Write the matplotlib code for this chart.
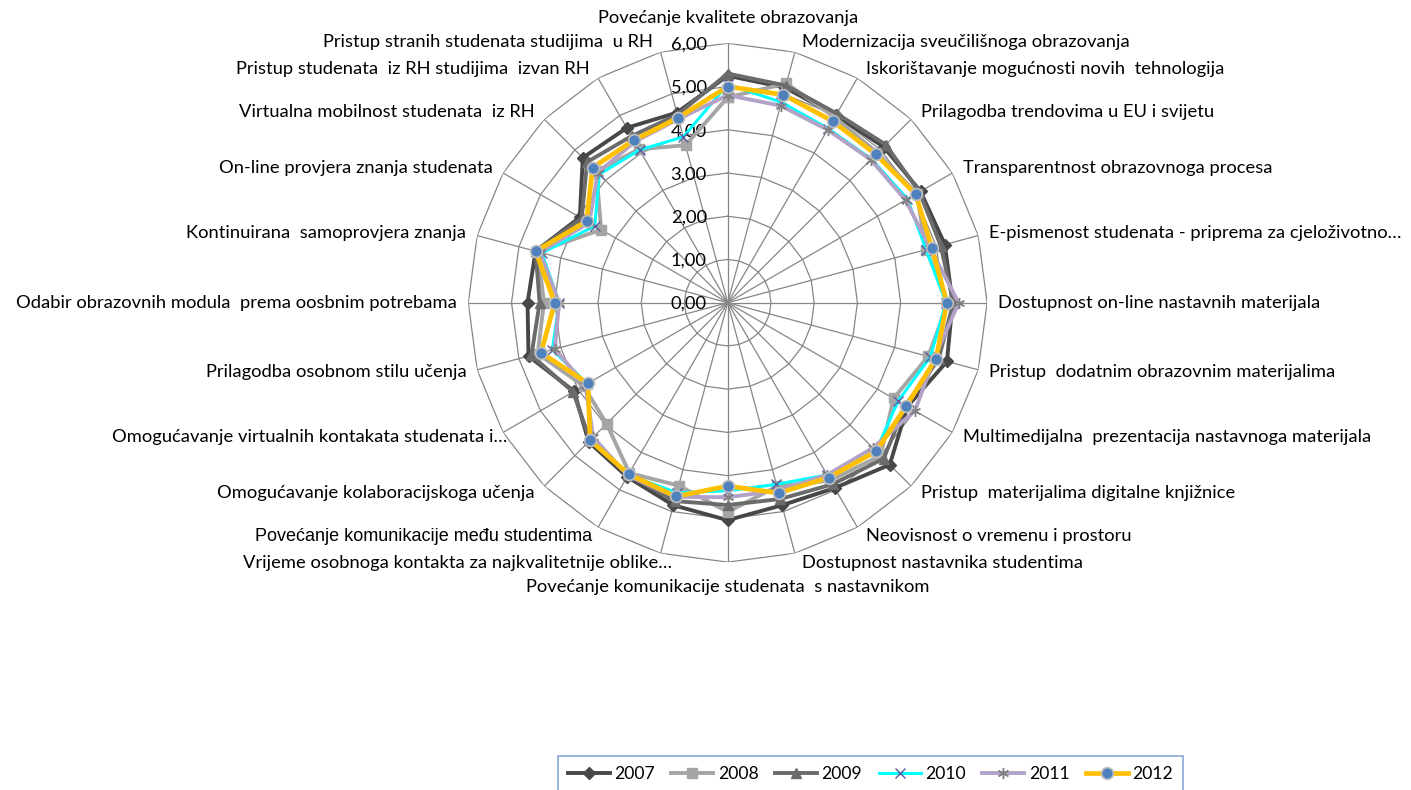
import numpy as np
import matplotlib
matplotlib.use("Agg")
import matplotlib.pyplot as plt

# --- Data ---
categories = [
    "Povećanje kvalitete obrazovanja",
    "Modernizacija sveučilišnoga obrazovanja",
    "Iskorištavanje mogućnosti novih  tehnologija",
    "Prilagodba trendovima u EU i svijetu",
    "Transparentnost obrazovnoga procesa",
    "E-pismenost studenata - priprema za cjeloživotno…",
    "Dostupnost on-line nastavnih materijala",
    "Pristup  dodatnim obrazovnim materijalima",
    "Multimedijalna  prezentacija nastavnoga materijala",
    "Pristup  materijalima digitalne knjižnice",
    "Neovisnost o vremenu i prostoru",
    "Dostupnost nastavnika studentima",
    "Povećanje komunikacije studenata  s nastavnikom",
    "Vrijeme osobnoga kontakta za najkvalitetnije oblike…",
    "Povećanje komunikacije među studentima",
    "Omogućavanje kolaboracijskoga učenja",
    "Omogućavanje virtualnih kontakata studenata i…",
    "Prilagodba osobnom stilu učenja",
    "Odabir obrazovnih modula  prema oosbnim potrebama",
    "Kontinuirana  samoprovjera znanja",
    "On-line provjera znanja studenata",
    "Virtualna mobilnost studenata  iz RH",
    "Pristup studenata  iz RH studijima  izvan RH",
    "Pristup stranih studenata studijima  u RH",
]

v2007 = [5.25, 5.15, 5.00, 5.10, 5.15, 5.20, 5.20, 5.25, 4.80, 5.30, 4.95, 4.85,
         5.03, 4.85, 4.65, 4.55, 4.10, 4.77, 4.63, 4.60, 3.95, 4.74, 4.67, 4.55]
v2008 = [4.75, 5.25, 4.95, 4.90, 5.05, 4.75, 5.10, 4.80, 4.43, 5.00, 4.75, 4.40,
         4.84, 4.38, 4.55, 3.96, 3.85, 4.55, 4.25, 4.55, 3.38, 4.30, 4.10, 3.77]
v2009 = [5.30, 5.20, 5.05, 5.17, 5.12, 5.10, 5.22, 5.05, 4.75, 5.10, 4.85, 4.70,
         4.68, 4.75, 4.60, 4.50, 4.13, 4.70, 4.35, 4.60, 3.90, 4.60, 4.45, 4.50]
v2010 = [5.05, 4.80, 4.65, 4.70, 4.80, 4.75, 5.05, 4.85, 4.55, 4.85, 4.60, 4.35,
         4.35, 4.55, 4.60, 4.45, 3.75, 4.20, 3.90, 4.45, 3.55, 4.20, 4.08, 3.97]
v2011 = [4.80, 4.72, 4.62, 4.68, 4.75, 4.85, 5.34, 4.95, 5.00, 4.75, 4.60, 4.50,
         4.50, 4.65, 4.62, 4.40, 3.80, 4.14, 3.90, 4.50, 3.70, 4.25, 4.30, 4.40]
v2012 = [5.00, 4.98, 4.85, 4.85, 5.02, 4.89, 5.07, 4.99, 4.77, 4.86, 4.67, 4.56,
         4.24, 4.64, 4.58, 4.50, 3.73, 4.47, 4.00, 4.60, 3.77, 4.42, 4.34, 4.43]

years = ["2007", "2008", "2009", "2010", "2011", "2012"]
tick_values = [0, 1, 2, 3, 4, 5, 6]

# --- Styles ---
styles = {
    "2007": dict(color="#474747", lw=2.8, marker="D", ms=6.5, mfc="#474747", mec="#474747", mew=1),
    "2008": dict(color="#A5A5A5", lw=2.8, marker="s", ms=7, mfc="#A5A5A5", mec="#A5A5A5", mew=1),
    "2009": dict(color="#6B6B6B", lw=2.8, marker="^", ms=7.5, mfc="#6B6B6B", mec="#6B6B6B", mew=1),
    "2010": dict(color="#00FFFF", lw=2.2, marker="x", ms=7.5, mfc="none", mec="#5A5AA0", mew=1.0),
    "2011": dict(color="#B3A2C7", lw=2.8, marker=(6, 2, 0), ms=8, mfc="none", mec="#808080", mew=1.0),
    "2012": dict(color="#FFC000", lw=3.4, marker="o", ms=8.5, mfc="#4F81BD", mec="#BFBFBF", mew=1.2),
}

FS = 13.2
plt.rcParams["font.family"] = ["Lato", "DejaVu Sans"]

W, H = 1411, 790
fig = plt.figure(figsize=(W / 100, H / 100), dpi=100)

cx, cy, R = 727.7, 302.7, 259.4
ax = fig.add_axes([(cx - R) / W, 1 - (cy + R) / H, 2 * R / W, 2 * R / H], projection="polar")
ax.set_theta_zero_location("N")
ax.set_theta_direction(-1)
ax.set_ylim(0, 6)
ax.grid(False)
ax.set_xticks([])
ax.set_yticks([])
ax.spines["polar"].set_visible(False)
ax.patch.set_alpha(0)

n = len(categories)
theta = np.arange(n) * 2 * np.pi / n
theta_c = np.append(theta, theta[0])

grid_col = "#868686"
for r in tick_values[1:]:
    ax.plot(theta_c, [r] * (n + 1), color=grid_col, lw=0.9, zorder=1)
for t in theta:
    ax.plot([t, t], [0, tick_values[-1]], color=grid_col, lw=0.9, zorder=1)

series = [v2007, v2008, v2009, v2010, v2011, v2012]
for i, (yr, vals) in enumerate(zip(years, series)):
    vals_c = np.append(vals, vals[0])
    ax.plot(theta_c, vals_c, label=yr, zorder=3 + i, clip_on=False, **styles[yr])

# radial tick labels
for r in tick_values:
    ax.annotate(f"{r:.2f}".replace(".", ","), xy=(0, r), xytext=(-15, -1),
                textcoords="offset points", ha="right", va="center", fontsize=FS)

# category labels (offsets in pixels)
special_dx = {13: 11, 14: -6, 16: 4}
for k, (t, lab) in enumerate(zip(theta, categories)):
    s, c = np.sin(t), np.cos(t)
    if abs(s) < 0.01:
        ha = "center"
        dx = 0
        dy = 25 if c > 0 else -25
    elif s > 0:
        ha = "left"
        dx = 6 + 5 * s
        dy = 10 * c
    else:
        ha = "right"
        dx = -6 + 5 * s
        dy = 10 * c
    dx = special_dx.get(k, dx)
    kw = dict(fontsize=FS)
    if k == 14:
        kw = dict(fontsize=13, family="Liberation Sans")
    ax.annotate(lab, xy=(t, 6), xytext=(dx * 0.72, dy * 0.72), textcoords="offset points",
                ha=ha, va="center", annotation_clip=False, **kw)

leg = fig.legend(loc="upper left", bbox_to_anchor=(558 / W, 1 - 756 / H), ncol=6,
                 fontsize=12.6, frameon=True, fancybox=False, handlelength=2.4,
                 handletextpad=0.25, columnspacing=0.95, borderpad=0.55, borderaxespad=0)
leg.get_frame().set_edgecolor("#6C93CF")
leg.get_frame().set_linewidth(1.2)

fig.savefig("out.png", dpi=100)
